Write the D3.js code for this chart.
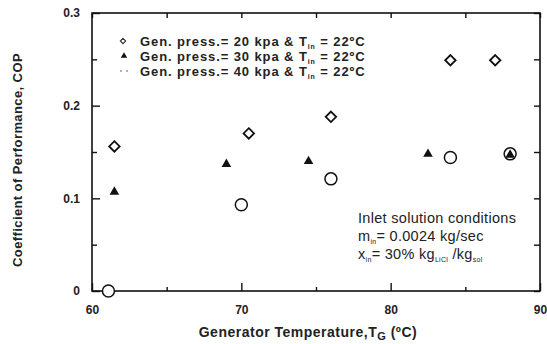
<!DOCTYPE html>
<html><head><meta charset="utf-8">
<script src="https://cdn.jsdelivr.net/npm/d3@7"></script>
<style>body{margin:0;background:#fff}text{font-family:Arial,"Liberation Sans",sans-serif}</style>
</head><body><svg id="c" width="547" height="344"></svg>
<script>
const xTicks = [60, 70, 80, 90];
const xMinor = [65, 75, 85];
const yTicks = [0, 0.1, 0.2, 0.3];
const yMinor = [0.05, 0.15, 0.25];
const yTickLabels = ["0", "0.1", "0.2", "0.3"];
const s20T = [61.5, 70.5, 76.0, 84.0, 87.0];
const s20V = [0.156, 0.170, 0.188, 0.249, 0.249];
const s30T = [61.5, 69.0, 74.5, 82.5, 88.0];
const s30V = [0.108, 0.138, 0.141, 0.149, 0.148];
const s40T = [61.1, 70.0, 76.0, 84.0, 88.0];
const s40V = [0.0, 0.093, 0.121, 0.144, 0.148];
const seriesNames = ["20", "30", "40"];

const svg = d3.select("#c");
const L = 92, R = 540, T = 13, B = 291;
const x = d3.scaleLinear().domain([60, 90]).range([L, R]);
const y = d3.scaleLinear().domain([0, 0.3]).range([B, T]);

svg.append("rect").attr("x", L).attr("y", T).attr("width", R - L).attr("height", B - T)
  .attr("fill", "none").attr("stroke", "#111").attr("stroke-width", 1.6);

const gx = svg.append("g").attr("transform", `translate(0,${B})`)
  .call(d3.axisBottom(x).tickValues(xTicks).tickSize(-8).tickPadding(14).tickFormat(d3.format("d")));
const gxm = svg.append("g").attr("transform", `translate(0,${B})`)
  .call(d3.axisBottom(x).tickValues(xMinor).tickSize(-4).tickFormat(""));
const gxt = svg.append("g").attr("transform", `translate(0,${T})`)
  .call(d3.axisTop(x).tickValues(xTicks.concat(xMinor)).tickSize(-5).tickFormat(""));
const gy = svg.append("g").attr("transform", `translate(${L},0)`)
  .call(d3.axisLeft(y).tickValues(yTicks).tickSize(-8).tickPadding(12).tickFormat((d, i) => yTickLabels[i]));
const gym = svg.append("g").attr("transform", `translate(${L},0)`)
  .call(d3.axisLeft(y).tickValues(yMinor).tickSize(-5).tickFormat(""));
const gyr = svg.append("g").attr("transform", `translate(${R},0)`)
  .call(d3.axisRight(y).tickValues(yTicks.concat(yMinor)).tickSize(-6).tickFormat(""));
[gx, gxm, gxt, gy, gym, gyr].forEach(g => {
  g.select(".domain").remove();
  g.selectAll("line").attr("stroke", "#111").attr("stroke-width", 1.4);
  g.selectAll("text").attr("font-size", 12).attr("font-weight", "bold").attr("fill", "#222");
});

const d20 = s20T.map((t, i) => [t, s20V[i]]);
const d30 = s30T.map((t, i) => [t, s30V[i]]);
const d40 = s40T.map((t, i) => [t, s40V[i]]);
const diamond = d3.symbol().type(d3.symbolDiamond2).size(70);
const tri = d3.symbol().type(d3.symbolTriangle).size(40);
svg.append("g").selectAll("circle").data(d40).join("circle")
  .attr("cx", d => x(d[0])).attr("cy", d => y(d[1])).attr("r", 6)
  .attr("fill", "#fff").attr("stroke", "#111").attr("stroke-width", 1.5);
svg.append("g").selectAll("path").data(d20).join("path")
  .attr("d", diamond).attr("transform", d => `translate(${x(d[0])},${y(d[1])})`)
  .attr("fill", "#fff").attr("stroke", "#111").attr("stroke-width", 1.8);
svg.append("g").selectAll("path").data(d30).join("path")
  .attr("d", tri).attr("transform", d => `translate(${x(d[0])},${y(d[1]) + 1})`)
  .attr("fill", "#111");

const legY = [41, 56, 71];
const lg = svg.append("g");
seriesNames.forEach((n, i) => {
  const yy = legY[i];
  if (i === 0) lg.append("path").attr("d", d3.symbol().type(d3.symbolDiamond2).size(18)).attr("transform", `translate(123,${yy})`).attr("fill", "#fff").attr("stroke", "#333").attr("stroke-width", 1.1);
  else if (i === 1) lg.append("path").attr("d", d3.symbol().type(d3.symbolTriangle).size(18)).attr("transform", `translate(124,${yy})`).attr("fill", "#111");
  else { lg.append("circle").attr("cx", 121).attr("cy", yy).attr("r", 1).attr("fill", "#999"); lg.append("circle").attr("cx", 127).attr("cy", yy).attr("r", 1).attr("fill", "#999"); }
  const t = lg.append("text").attr("x", 140).attr("y", yy + 4.5).attr("font-size", 13).attr("font-weight", "bold")
    .attr("letter-spacing", 0.9).attr("fill", "#222");
  t.append("tspan").text(`Gen. press.= ${n} kpa & T`);
  t.append("tspan").attr("font-size", 7).attr("dy", 3).text("in");
  t.append("tspan").attr("dy", -3).text(" = 22ºC");
});

const an = svg.append("g").attr("font-size", 14.5).attr("fill", "#222").attr("letter-spacing", 0.3);
an.append("text").attr("x", 358).attr("y", 223).text("Inlet solution conditions");
const a2 = an.append("text").attr("x", 358).attr("y", 241);
a2.append("tspan").text("m");
a2.append("tspan").attr("font-size", 7).attr("dy", 3).text("in");
a2.append("tspan").attr("dy", -3).text("= 0.0024 kg/sec");
const a3 = an.append("text").attr("x", 358).attr("y", 259);
a3.append("tspan").text("x");
a3.append("tspan").attr("font-size", 7).attr("dy", 3).text("in");
a3.append("tspan").attr("dy", -3).text("= 30% kg");
a3.append("tspan").attr("font-size", 7).attr("dy", 3).text("LiCl");
a3.append("tspan").attr("dy", -3).text(" /kg");
a3.append("tspan").attr("font-size", 7).attr("dy", 3).text("sol");

const xt = svg.append("text").attr("x", 308).attr("y", 337).attr("text-anchor", "middle")
  .attr("font-size", 14).attr("font-weight", "bold").attr("letter-spacing", 0.5).attr("fill", "#222");
xt.append("tspan").text("Generator Temperature,T");
xt.append("tspan").attr("font-size", 11).attr("dy", 3).text("G");
xt.append("tspan").attr("dy", -3).text(" (ºC)");
svg.append("text").attr("transform", "translate(22,160) rotate(-90)").attr("text-anchor", "middle")
  .attr("font-size", 13).attr("font-weight", "bold").attr("letter-spacing", 0.4).attr("fill", "#222")
  .text("Coefficient of Performance, COP");
</script></body></html>
